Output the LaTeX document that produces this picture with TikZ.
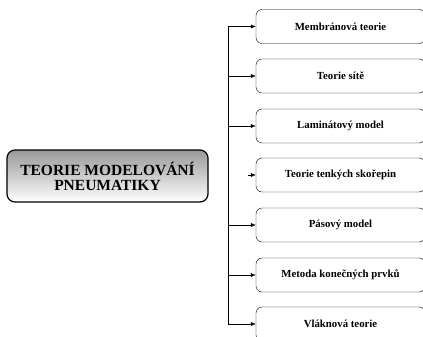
\documentclass[tikz,border=0pt]{standalone}
\usepackage{fontspec}
\setmainfont{Liberation Serif}
\usetikzlibrary{arrows.meta}
\begin{document}
\begin{tikzpicture}[x=1pt,y=-1pt,
  every node/.style={draw,rounded corners=6pt,minimum width=169pt,minimum height=34pt,
    font=\bfseries\fontsize{10.8}{12}\selectfont},
  branch/.style={-{Latex[length=5pt,width=4pt]}}]
  \useasboundingbox (0,0) rectangle (423,337);

  % main box
  \node[line width=1.2pt,rounded corners=8pt,minimum width=201pt,minimum height=52pt,align=center,
    top color=gray!80,bottom color=white,font=\bfseries\fontsize{15.5}{15}\selectfont]
    (tyre) at (107.5,176) {TEORIE MODELOVÁNÍ\\PNEUMATIKY};

  % theories
  \node (membr) at (340.5,26.5) {Membránová teorie};
  \node (net) at (340.5,76) {Teorie sítě};
  \node (lamin) at (340.5,126) {Laminátový model};
  \node (shell) at (340.5,175) {Teorie tenkých skořepin};
  \node (belt) at (340.5,225) {Pásový model};
  \node (fem) at (340.5,275) {Metoda konečných prvků};
  \node (fibre) at (340.5,324) {Vláknová teorie};

  \coordinate (t1) at (228,26.5);
  \coordinate (t2) at (228,76);
  \coordinate (t3) at (228,126);
  \coordinate (t4) at (248,175);
  \coordinate (t5) at (228,225);
  \coordinate (t6) at (228,275);
  \coordinate (t7) at (228,324);

  \draw (t1) -- (t7);
  \draw[branch] (t1) -- (membr);
  \draw[branch] (t2) -- (net);
  \draw[branch] (t3) -- (lamin);
  \draw[branch] (t4) -- (shell);
  \draw[branch] (t5) -- (belt);
  \draw[branch] (t6) -- (fem);
  \draw[branch] (t7) -- (fibre);
\end{tikzpicture}
\end{document}
